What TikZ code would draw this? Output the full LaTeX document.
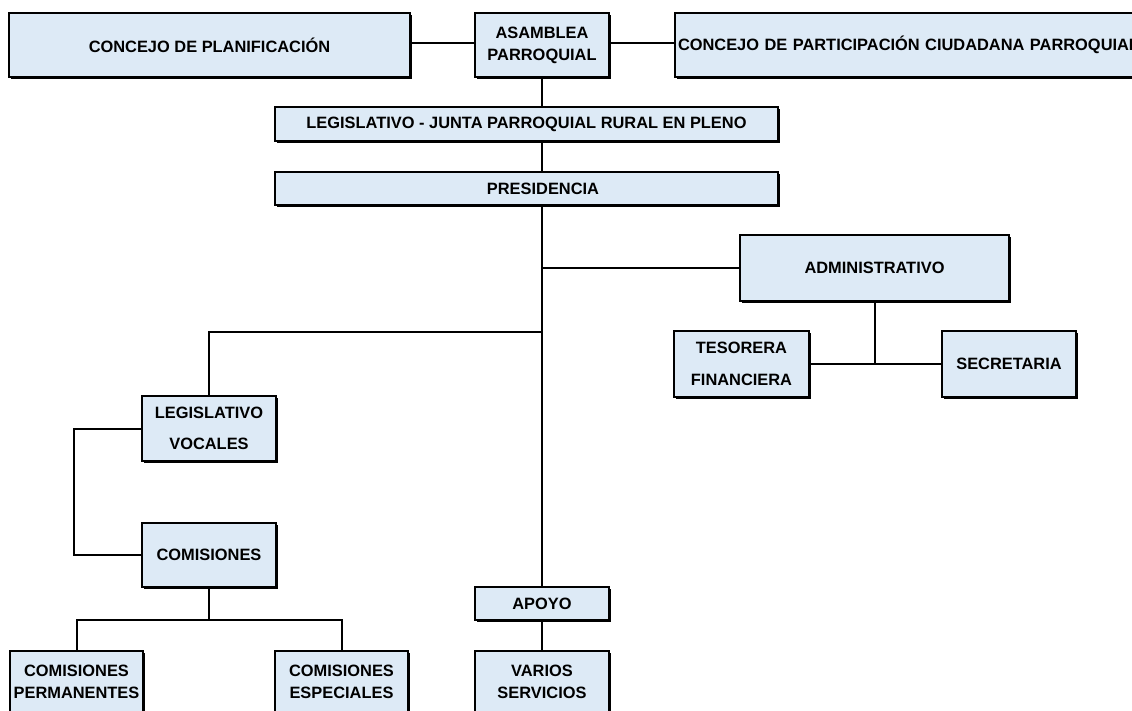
\documentclass[tikz,border=0pt]{standalone}
\usepackage{fontspec}
\setmainfont{Liberation Sans}
\usetikzlibrary{shadows}
\definecolor{boxfill}{RGB}{221,234,246}
\tikzset{
  box/.style={draw=black, line width=1.6pt, fill=boxfill, inner sep=2pt,
    align=center, font=\bfseries\fontsize{16.4}{22}\selectfont,
    drop shadow={shadow xshift=1.6pt, shadow yshift=-1.6pt, fill=black, opacity=1}},
  conn/.style={draw=black, line width=2pt}
}
\begin{document}
\begin{tikzpicture}[x=1pt, y=-1pt]
\useasboundingbox (0,0) rectangle (1132,711);
\clip (0,0) rectangle (1132,711);
% nodes
\node[box, minimum width=401pt, minimum height=64pt] (planif) at (209.5,45) {CONCEJO DE PLANIFICACIÓN};
\node[box, minimum width=134pt, minimum height=64pt] (asamblea) at (542,45) {ASAMBLEA\\PARROQUIAL};
\node[box, minimum width=575pt, minimum height=64pt, text width=569pt, align=left, inner xsep=3pt] (particip) at (962.5,45) {CONCEJO DE PARTICIPACIÓN CIUDADANA PARROQUIAL};
\node[box, minimum width=503pt, minimum height=34pt] (junta) at (526.5,124) {LEGISLATIVO - JUNTA PARROQUIAL RURAL EN PLENO};
\node[box, minimum width=503pt, minimum height=33pt] (presid) at (526.5,188.5) {\hspace*{33pt}PRESIDENCIA};
\node[box, minimum width=269pt, minimum height=66pt] (admin) at (874.5,268) {ADMINISTRATIVO};
\node[box, minimum width=135pt, minimum height=66pt] (tesorera) at (741.5,364) {TESORERA\\[10pt]FINANCIERA};
\node[box, minimum width=134pt, minimum height=66pt] (secretaria) at (1009,364) {SECRETARIA};
\node[box, minimum width=134pt, minimum height=65pt] (vocales) at (209,428.5) {LEGISLATIVO\\[9pt]VOCALES};
\node[box, minimum width=134pt, minimum height=64pt] (comisiones) at (209,555) {COMISIONES};
\node[box, minimum width=134pt, minimum height=33pt] (apoyo) at (542,603.5) {APOYO};
\node[box, minimum width=133pt, minimum height=62pt] (permanentes) at (76.5,682) {COMISIONES\\PERMANENTES};
\node[box, minimum width=133pt, minimum height=62pt] (especiales) at (341.5,682) {COMISIONES\\ESPECIALES};
\node[box, minimum width=134pt, minimum height=62pt] (varios) at (542,682) {VARIOS\\SERVICIOS};
% connectors
\draw[conn] ([yshift=1.5pt]planif.east) -- ([yshift=1.5pt]asamblea.west);
\draw[conn] ([yshift=1.5pt]asamblea.east) -- ([yshift=1.5pt]particip.west);
\draw[conn] (asamblea.south) -- (asamblea.south |- junta.north);
\draw[conn] (asamblea.south |- junta.south) -- (asamblea.south |- presid.north);
\draw[conn] (asamblea.south |- presid.south) -- (apoyo.north);
\coordinate (trunkA) at (542,268);
\coordinate (trunkB) at (542,332);
\draw[conn] (trunkA) -- (admin.west);
\draw[conn] (trunkB) -| (vocales.north);
\coordinate (adminJ) at (admin.south |- tesorera.east);
\draw[conn] (admin.south) -- (adminJ);
\draw[conn] (tesorera.east) -- (secretaria.west);
\draw[conn] (vocales.west) -- ++(-67,0) |- (comisiones.west);
\draw[conn] (comisiones.south) -- ++(0,32) coordinate (cj);
\draw[conn] (permanentes.north) |- (cj) -| (especiales.north);
\draw[conn] (apoyo.south) -- (varios.north);
\end{tikzpicture}
\end{document}
